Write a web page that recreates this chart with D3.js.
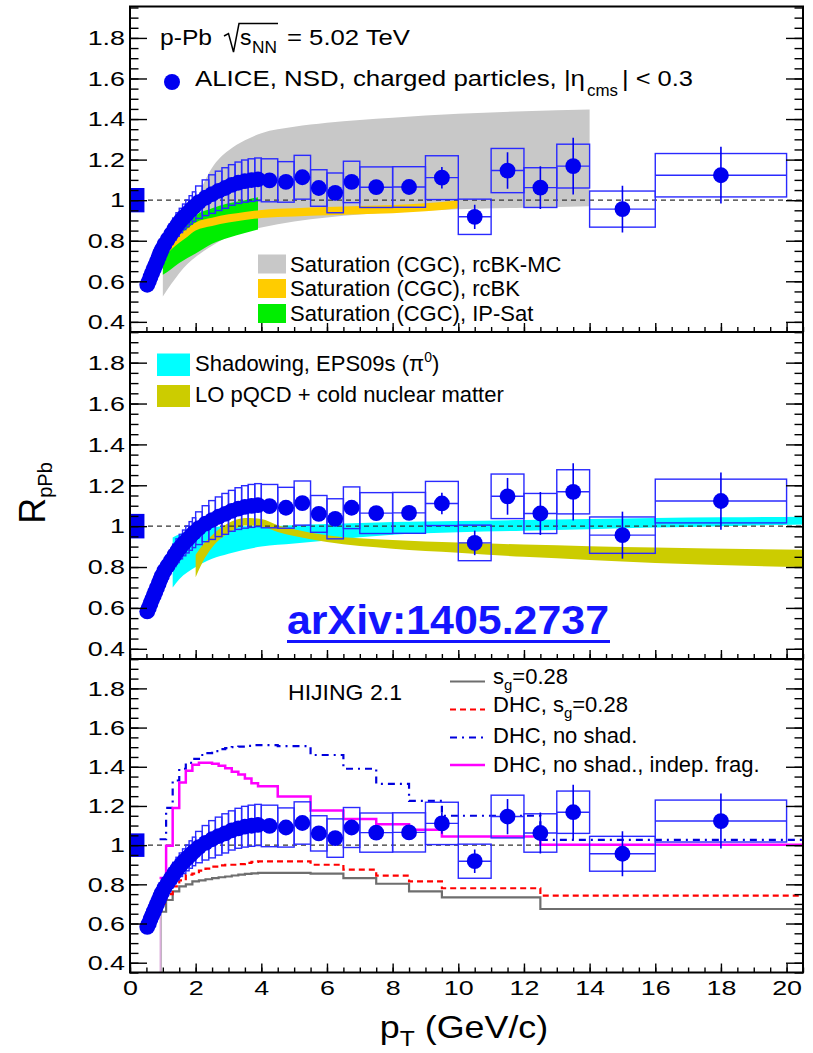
<!DOCTYPE html>
<html><head><meta charset="utf-8">
<script src="https://cdn.jsdelivr.net/npm/d3@7"></script>
<style>body{margin:0;background:#fff;} svg text{font-family:"Liberation Sans",Arial,Helvetica,sans-serif;}</style>
</head><body><svg id="c" width="813" height="1053"></svg>
<script>
// ---------------- DATA ----------------
const ptLo = [0.50,0.55,0.60,0.65,0.70,0.75,0.80,0.85,0.90,0.95, 1.0,1.1,1.2,1.3,1.4,1.5,1.6,1.7,1.8,1.9, 2.0,2.2,2.4,2.6,2.8,3.0,3.2,3.4,3.6,3.8, 4.0,4.5,5.0,5.5,6.0,6.5,7.0,8.0,9.0,10,11,12,13,14,16];
const ptHi = [0.55,0.60,0.65,0.70,0.75,0.80,0.85,0.90,0.95,1.0, 1.1,1.2,1.3,1.4,1.5,1.6,1.7,1.8,1.9,2.0, 2.2,2.4,2.6,2.8,3.0,3.2,3.4,3.6,3.8,4.0, 4.5,5.0,5.5,6.0,6.5,7.0,8.0,9.0,10,11,12,13,14,16,20];
const rpPb = [0.583,0.600,0.622,0.642,0.661,0.680,0.700,0.720,0.740,0.758, 0.782,0.807,0.832,0.857,0.880,0.900,0.918,0.935,0.952,0.968, 0.990,1.012,1.030,1.046,1.060,1.075,1.086,1.094,1.099,1.103, 1.098,1.090,1.113,1.060,1.036,1.090,1.064,1.065,1.111,0.918,1.146,1.062,1.168,0.956,1.123];
const statErr = [0.004,0.004,0.004,0.004,0.004,0.004,0.004,0.004,0.004,0.004, 0.004,0.004,0.004,0.004,0.004,0.004,0.004,0.004,0.004,0.004, 0.005,0.005,0.005,0.005,0.005,0.005,0.005,0.005,0.005,0.005, 0.008,0.009,0.011,0.012,0.014,0.016,0.015,0.025,0.053,0.060,0.090,0.105,0.140,0.115,0.140];
const sysErr = [0.030,0.030,0.030,0.032,0.032,0.034,0.034,0.035,0.036,0.038, 0.040,0.045,0.050,0.055,0.058,0.060,0.063,0.066,0.070,0.073, 0.080,0.088,0.095,0.097,0.100,0.100,0.102,0.104,0.105,0.105, 0.106,0.100,0.108,0.090,0.098,0.102,0.100,0.100,0.108,0.087,0.109,0.098,0.108,0.089,0.107];
const normUnc = 0.06;

// Saturation (CGC) models
const rcbkmcPt = [1.0,1.25,1.5,1.75,2.0,2.25,2.5,2.75,3.0,3.5,4.0,5.0,6.0,8.0,10.0,12.0,14.0];
const rcbkmcLo = [0.525,0.585,0.64,0.685,0.72,0.75,0.775,0.80,0.82,0.845,0.865,0.895,0.915,0.94,0.955,0.963,0.97];
const rcbkmcHi = [0.64,0.72,0.80,0.90,0.99,1.085,1.16,1.21,1.245,1.295,1.33,1.362,1.382,1.407,1.426,1.438,1.447];
const rcbkPt = [1.0,1.25,1.5,1.75,2.0,2.5,3.0,3.5,4.0,5.0,6.0,7.0,8.0,9.0,10.0];
const rcbkLo = [0.71,0.755,0.79,0.82,0.85,0.873,0.89,0.902,0.912,0.92,0.926,0.931,0.936,0.945,0.96];
const rcbkHi = [0.75,0.795,0.83,0.86,0.89,0.913,0.93,0.942,0.952,0.96,0.966,0.971,0.976,0.985,1.0];
const ipsatPt = [1.0,1.25,1.5,1.75,2.0,2.5,3.0,3.5,3.9];
const ipsatLo = [0.632,0.66,0.69,0.715,0.737,0.785,0.815,0.838,0.855];
const ipsatHi = [0.745,0.80,0.85,0.89,0.925,0.96,0.985,1.0,1.015];

// Shadowing EPS09s and LO pQCD + CNM
const eps09Pt = [1.3,1.5,2.0,2.5,3.0,4.0,5.0,6.0,8.0,10,12,14,16,18,20.5];
const eps09Lo = [0.70,0.74,0.80,0.84,0.865,0.90,0.915,0.93,0.958,0.97,0.978,0.985,0.993,1.0,1.008];
const eps09Hi = [0.945,0.96,0.985,0.995,1.0,1.0,1.005,1.01,1.02,1.025,1.03,1.035,1.04,1.043,1.046];
const pqcdPt = [2.0,2.2,2.5,3.0,3.5,4.0,4.5,5.0,6.0,8.0,10,12,14,16,20.5];
const pqcdLo = [0.75,0.82,0.895,0.965,1.003,0.998,0.972,0.952,0.922,0.89,0.87,0.85,0.835,0.82,0.80];
const pqcdHi = [0.86,0.905,0.955,1.015,1.04,1.035,1.005,0.985,0.955,0.932,0.92,0.91,0.902,0.895,0.885];

// HIJING 2.1 histograms
const hijingEdges = [0.9,1.1,1.3,1.5,1.7,1.9,2.1,2.3,2.5,2.7,2.9,3.1,3.3,3.5,3.7,3.9,4.5,5.5,6.5,7.5,8.5,9.5,12.5,20.5];
const hijingSg = [0.66,0.72,0.764,0.79,0.80,0.815,0.82,0.826,0.832,0.836,0.84,0.845,0.85,0.853,0.856,0.858,0.858,0.855,0.832,0.803,0.764,0.733,0.674];
const hijingDHCSg = [0.70,0.75,0.79,0.82,0.849,0.855,0.87,0.88,0.89,0.897,0.90,0.90,0.903,0.91,0.915,0.917,0.917,0.90,0.875,0.844,0.815,0.78,0.742];
const hijingDHCNoShad = [1.03,1.19,1.33,1.39,1.42,1.44,1.46,1.47,1.48,1.49,1.495,1.50,1.503,1.507,1.51,1.51,1.505,1.46,1.39,1.313,1.226,1.15,1.027];
const hijingDHCIndep = [0.832,0.997,1.189,1.32,1.38,1.41,1.42,1.42,1.415,1.405,1.393,1.375,1.36,1.34,1.316,1.30,1.248,1.177,1.133,1.107,1.078,1.044,1.002];

const yMajorTicks = [0.4,0.6,0.8,1.0,1.2,1.4,1.6,1.8];
const yTickLabels = ["0.4","0.6","0.8","1","1.2","1.4","1.6","1.8"];
const xMajorTicks = [0,2,4,6,8,10,12,14,16,18,20];
const xTickLabels = ["0","2","4","6","8","10","12","14","16","18","20"];
const legendSat = ["Saturation (CGC), rcBK-MC","Saturation (CGC), rcBK","Saturation (CGC), IP-Sat"];

// ---------------- LAYOUT ----------------
const svg = d3.select("#c");
svg.append("rect").attr("width",813).attr("height",1053).attr("fill","#fff");
const X0 = 130, X1 = 803;
const x = d3.scaleLinear().domain([0,20.5]).range([X0,X1]);
const panels = [{t:6.5,b:332,r0:332,r1:7.5},{t:332,b:659,r0:659,r1:332},{t:659,b:972.5,r0:972.5,r1:659}];
const yMinor = d3.range(0.35,1.951,0.05);
const xMinor = d3.range(0,20.51,0.5);
const BLUE = "#0000f0", BOXBLUE = "#2a2aff";
const DASHDOT = "7,5,2,5";
const defs = svg.append("defs");

function band(g,y,pt,lo,hi,color){
  const pts = pt.map((p,i)=>({p,lo:lo[i],hi:hi[i]}));
  g.append("path").datum(pts).attr("fill",color).attr("stroke","none")
   .attr("d",d3.area().x(d=>x(d.p)).y0(d=>y(d.lo)).y1(d=>y(d.hi)).curve(d3.curveMonotoneX));
}
function dashed(g,y){
  g.append("line").attr("x1",X0).attr("x2",X1).attr("y1",y(1)).attr("y2",y(1))
   .attr("stroke","#333").attr("stroke-width",1.3).attr("stroke-dasharray","5,4");
}
function drawData(g,y){
  const d = rpPb.map((v,i)=>({lo:ptLo[i],hi:ptHi[i],c:(ptLo[i]+ptHi[i])/2,v,s:statErr[i],sy:sysErr[i]}));
  const dg = g.append("g");
  dg.selectAll("rect.sys").data(d).join("rect").attr("class","sys")
    .attr("x",e=>x(e.lo)).attr("width",e=>x(e.hi)-x(e.lo))
    .attr("y",e=>y(e.v+e.sy)).attr("height",e=>y(e.v-e.sy)-y(e.v+e.sy))
    .attr("fill","none").attr("stroke",BOXBLUE).attr("stroke-width",1.4);
  dg.selectAll("line.xe").data(d).join("line").attr("class","xe")
    .attr("x1",e=>x(e.lo)).attr("x2",e=>x(e.hi)).attr("y1",e=>y(e.v)).attr("y2",e=>y(e.v))
    .attr("stroke",BOXBLUE).attr("stroke-width",1.4);
  dg.selectAll("line.ye").data(d).join("line").attr("class","ye")
    .attr("x1",e=>x(e.c)).attr("x2",e=>x(e.c)).attr("y1",e=>y(e.v-e.s)).attr("y2",e=>y(e.v+e.s))
    .attr("stroke",BLUE).attr("stroke-width",1.6);
  dg.selectAll("circle").data(d).join("circle")
    .attr("cx",e=>x(e.c)).attr("cy",e=>y(e.v)).attr("r",7.9).attr("fill",BLUE);
}
function normBox(g,y){
  g.append("rect").attr("x",x(0)).attr("width",x(0.44)-x(0))
   .attr("y",y(1+normUnc)).attr("height",y(1-normUnc)-y(1+normUnc)).attr("fill",BLUE);
}
function axes(g,y,p,showX){
  const FF = "Liberation Sans, Arial, sans-serif";
  const L = g.append("g").attr("transform",`translate(${X0},0)`)
    .call(d3.axisLeft(y).tickValues(yMajorTicks).tickFormat((d,i)=>yTickLabels[i]).tickSize(-17).tickSizeOuter(0).tickPadding(5));
  L.attr("font-size",21).attr("font-family",FF);
  L.select(".domain").remove();
  L.selectAll("text").attr("x",0).attr("transform","translate(-5,0) scale(1.28,1)").attr("fill","#000");
  const Lm = g.append("g").attr("transform",`translate(${X0},0)`)
    .call(d3.axisLeft(y).tickValues(yMinor).tickFormat("").tickSize(-8.5).tickSizeOuter(0));
  Lm.select(".domain").remove();
  const R = g.append("g").attr("transform",`translate(${X1},0)`)
    .call(d3.axisRight(y).tickValues(yMajorTicks).tickFormat("").tickSize(-17).tickSizeOuter(0));
  R.select(".domain").remove();
  const Rm = g.append("g").attr("transform",`translate(${X1},0)`)
    .call(d3.axisRight(y).tickValues(yMinor).tickFormat("").tickSize(-8.5).tickSizeOuter(0));
  Rm.select(".domain").remove();
  const B = g.append("g").attr("transform",`translate(0,${p.b})`)
    .call(d3.axisBottom(x).tickValues(xMajorTicks).tickFormat(showX?((d,i)=>xTickLabels[i]):"").tickSize(-9).tickSizeOuter(0).tickPadding(7.5));
  B.attr("font-size",21).attr("font-family",FF);
  B.select(".domain").remove();
  B.selectAll("text").attr("x",0).attr("transform","scale(1.28,1)").attr("fill","#000");
  const Bm = g.append("g").attr("transform",`translate(0,${p.b})`)
    .call(d3.axisBottom(x).tickValues(xMinor).tickFormat("").tickSize(-5).tickSizeOuter(0));
  Bm.select(".domain").remove();
  g.selectAll(".tick line").attr("stroke","#000").attr("stroke-width",1.4);
  g.append("rect").attr("x",X0).attr("y",p.t).attr("width",X1-X0).attr("height",p.b-p.t)
   .attr("fill","none").attr("stroke","#000").attr("stroke-width",2);
}

panels.forEach((p,k)=>{
  const y = d3.scaleLinear().domain([0.35,1.95]).range([p.r0,p.r1]);
  defs.append("clipPath").attr("id","clip"+k).append("rect")
    .attr("x",X0).attr("y",p.t).attr("width",X1-X0).attr("height",p.b-p.t);
  const g = svg.append("g");
  const gc = g.append("g").attr("clip-path",`url(#clip${k})`);
  if(k===0){
    band(gc,y,rcbkmcPt,rcbkmcLo,rcbkmcHi,"#c8c8c8");
    band(gc,y,ipsatPt,ipsatLo,ipsatHi,"#00ee00");
    band(gc,y,rcbkPt,rcbkLo,rcbkHi,"#ffcc00");
    dashed(gc,y);
  } else if(k===1){
    band(gc,y,eps09Pt,eps09Lo,eps09Hi,"#00ffff");
    band(gc,y,pqcdPt,pqcdLo,pqcdHi,"#cccc00");
    dashed(gc,y);
  } else {
    dashed(gc,y);
    gc.append("line").attr("x1",x(0.92)).attr("x2",x(0.92)).attr("y1",y(0.3)).attr("y2",y(0.70))
      .attr("stroke","#cc88cc").attr("stroke-width",1);
    gc.append("line").attr("x1",x(0.96)).attr("x2",x(0.96)).attr("y1",y(0.3)).attr("y2",y(0.66))
      .attr("stroke","#b0a0b0").attr("stroke-width",0.8);
    const hl = d3.line().x(d=>x(d[0])).y(d=>y(d[1])).curve(d3.curveStepAfter);
    const pts = vals => hijingEdges.map((e,i)=>[e, vals[Math.min(i,vals.length-1)]]);
    gc.append("path").attr("d",hl(pts(hijingSg))).attr("fill","none").attr("stroke","#6e6e6e").attr("stroke-width",2.2);
    gc.append("path").attr("d",hl(pts(hijingDHCSg))).attr("fill","none").attr("stroke","#ff0000").attr("stroke-width",2.2).attr("stroke-dasharray","6,4");
    gc.append("path").attr("d",hl(pts(hijingDHCNoShad))).attr("fill","none").attr("stroke","#0000dd").attr("stroke-width",2.2).attr("stroke-dasharray",DASHDOT);
    gc.append("path").attr("d",hl(pts(hijingDHCIndep))).attr("fill","none").attr("stroke","#ff00ff").attr("stroke-width",2.5);
  }
  drawData(gc,y);
  normBox(g,y);
  axes(g,y,p,k===2);
});

// ---------------- TEXT / LEGENDS ----------------
const T = (x0,y0,s,fs,opt={})=>{
  const t = svg.append("text").attr("x",x0).attr("y",y0).attr("font-size",fs).attr("fill",opt.fill||"#000").text(s);
  if(opt.len) t.attr("textLength",opt.len).attr("lengthAdjust","spacingAndGlyphs");
  if(opt.anchor) t.attr("text-anchor",opt.anchor);
  if(opt.weight) t.attr("font-weight",opt.weight);
  if(opt.family) t.attr("font-family",opt.family);
  return t;
};
// top panel header
T(160,45,"p-Pb",22,{len:52});
svg.append("path").attr("d","M224,36 L228.5,33.5 L233.5,52 L239,23.5 L278,23.5").attr("fill","none").attr("stroke","#000").attr("stroke-width",1.5);
T(240,45,"s",22,{len:11.5});
T(252,53,"NN",17,{len:25});
T(287,45,"= 5.02 TeV",22,{len:123});
svg.append("circle").attr("cx",172).attr("cy",82).attr("r",8).attr("fill",BLUE);
T(195,86,"ALICE, NSD, charged particles, |\u03b7",22,{len:390});
T(587,96,"cms",16,{len:31});
T(622,86,"| < 0.3",22,{len:71});
// top legend
const satCol = ["#c8c8c8","#ffcc00","#00ee00"];
const satY = [264,288.5,313.5];
legendSat.forEach((s,i)=>{
  svg.append("rect").attr("x",258).attr("y",satY[i]-9.5).attr("width",28).attr("height",19).attr("fill",satCol[i]);
  T(290,satY[i]+7.5,s,22);
});
// middle legend
svg.append("rect").attr("x",157).attr("y",353.5).attr("width",33).attr("height",22.5).attr("fill","#00ffff");
svg.append("rect").attr("x",157).attr("y",385).attr("width",33).attr("height",22).attr("fill","#cccc00");
const sh = T(195,371,"Shadowing, EPS09s (\u03c0",22);
sh.append("tspan").attr("font-size",14).attr("dy",-9).text("0");
sh.append("tspan").attr("dy",9).text(")");
T(195,402,"LO pQCD + cold nuclear matter",22);
// arXiv
T(287,634,"arXiv:1405.2737",40,{len:322,weight:700,family:"Lato, 'Open Sans', sans-serif",fill:"#1414ff"});
svg.append("rect").attr("x",287).attr("y",640).attr("width",323).attr("height",3).attr("fill","#1414ff");
// bottom legend
T(288,700,"HIJING 2.1",22,{len:114});
const hjStyles = [["#6e6e6e",null,2.2],["#ff0000","6,4",2.2],["#0000dd",DASHDOT,2.2],["#ff00ff",null,2.5]];
const hjLineY = [681.5,709.5,737.5,765];
hjStyles.forEach((s,i)=>{
  const l = svg.append("line").attr("x1",450).attr("x2",485).attr("y1",hjLineY[i]).attr("y2",hjLineY[i])
    .attr("stroke",s[0]).attr("stroke-width",s[2]);
  if(s[1]) l.attr("stroke-dasharray",s[1]);
});
const l1 = T(493,683.5,"s",22);
l1.append("tspan").attr("font-size",15).attr("dy",6).text("g");
l1.append("tspan").attr("dy",-6).text("=0.28");
const l2 = T(493,712,"DHC, s",22);
l2.append("tspan").attr("font-size",15).attr("dy",6).text("g");
l2.append("tspan").attr("dy",-6).text("=0.28");
T(493,742.5,"DHC, no shad.",22);
T(493,771.5,"DHC, no shad., indep. frag.",22);
// axis titles
const yt = svg.append("text").attr("transform","translate(45,493) rotate(-90)").attr("text-anchor","middle").attr("font-size",36);
yt.append("tspan").text("R");
yt.append("tspan").attr("font-size",20).attr("dy",7).text("pPb");
const xt = svg.append("text").attr("transform","translate(464,1038) scale(1.12,1)").attr("text-anchor","middle").attr("font-size",32);
xt.append("tspan").text("p");
xt.append("tspan").attr("font-size",22).attr("dy",8).text("T");
xt.append("tspan").attr("dy",-8).text(" (GeV/c)");
</script></body></html>
